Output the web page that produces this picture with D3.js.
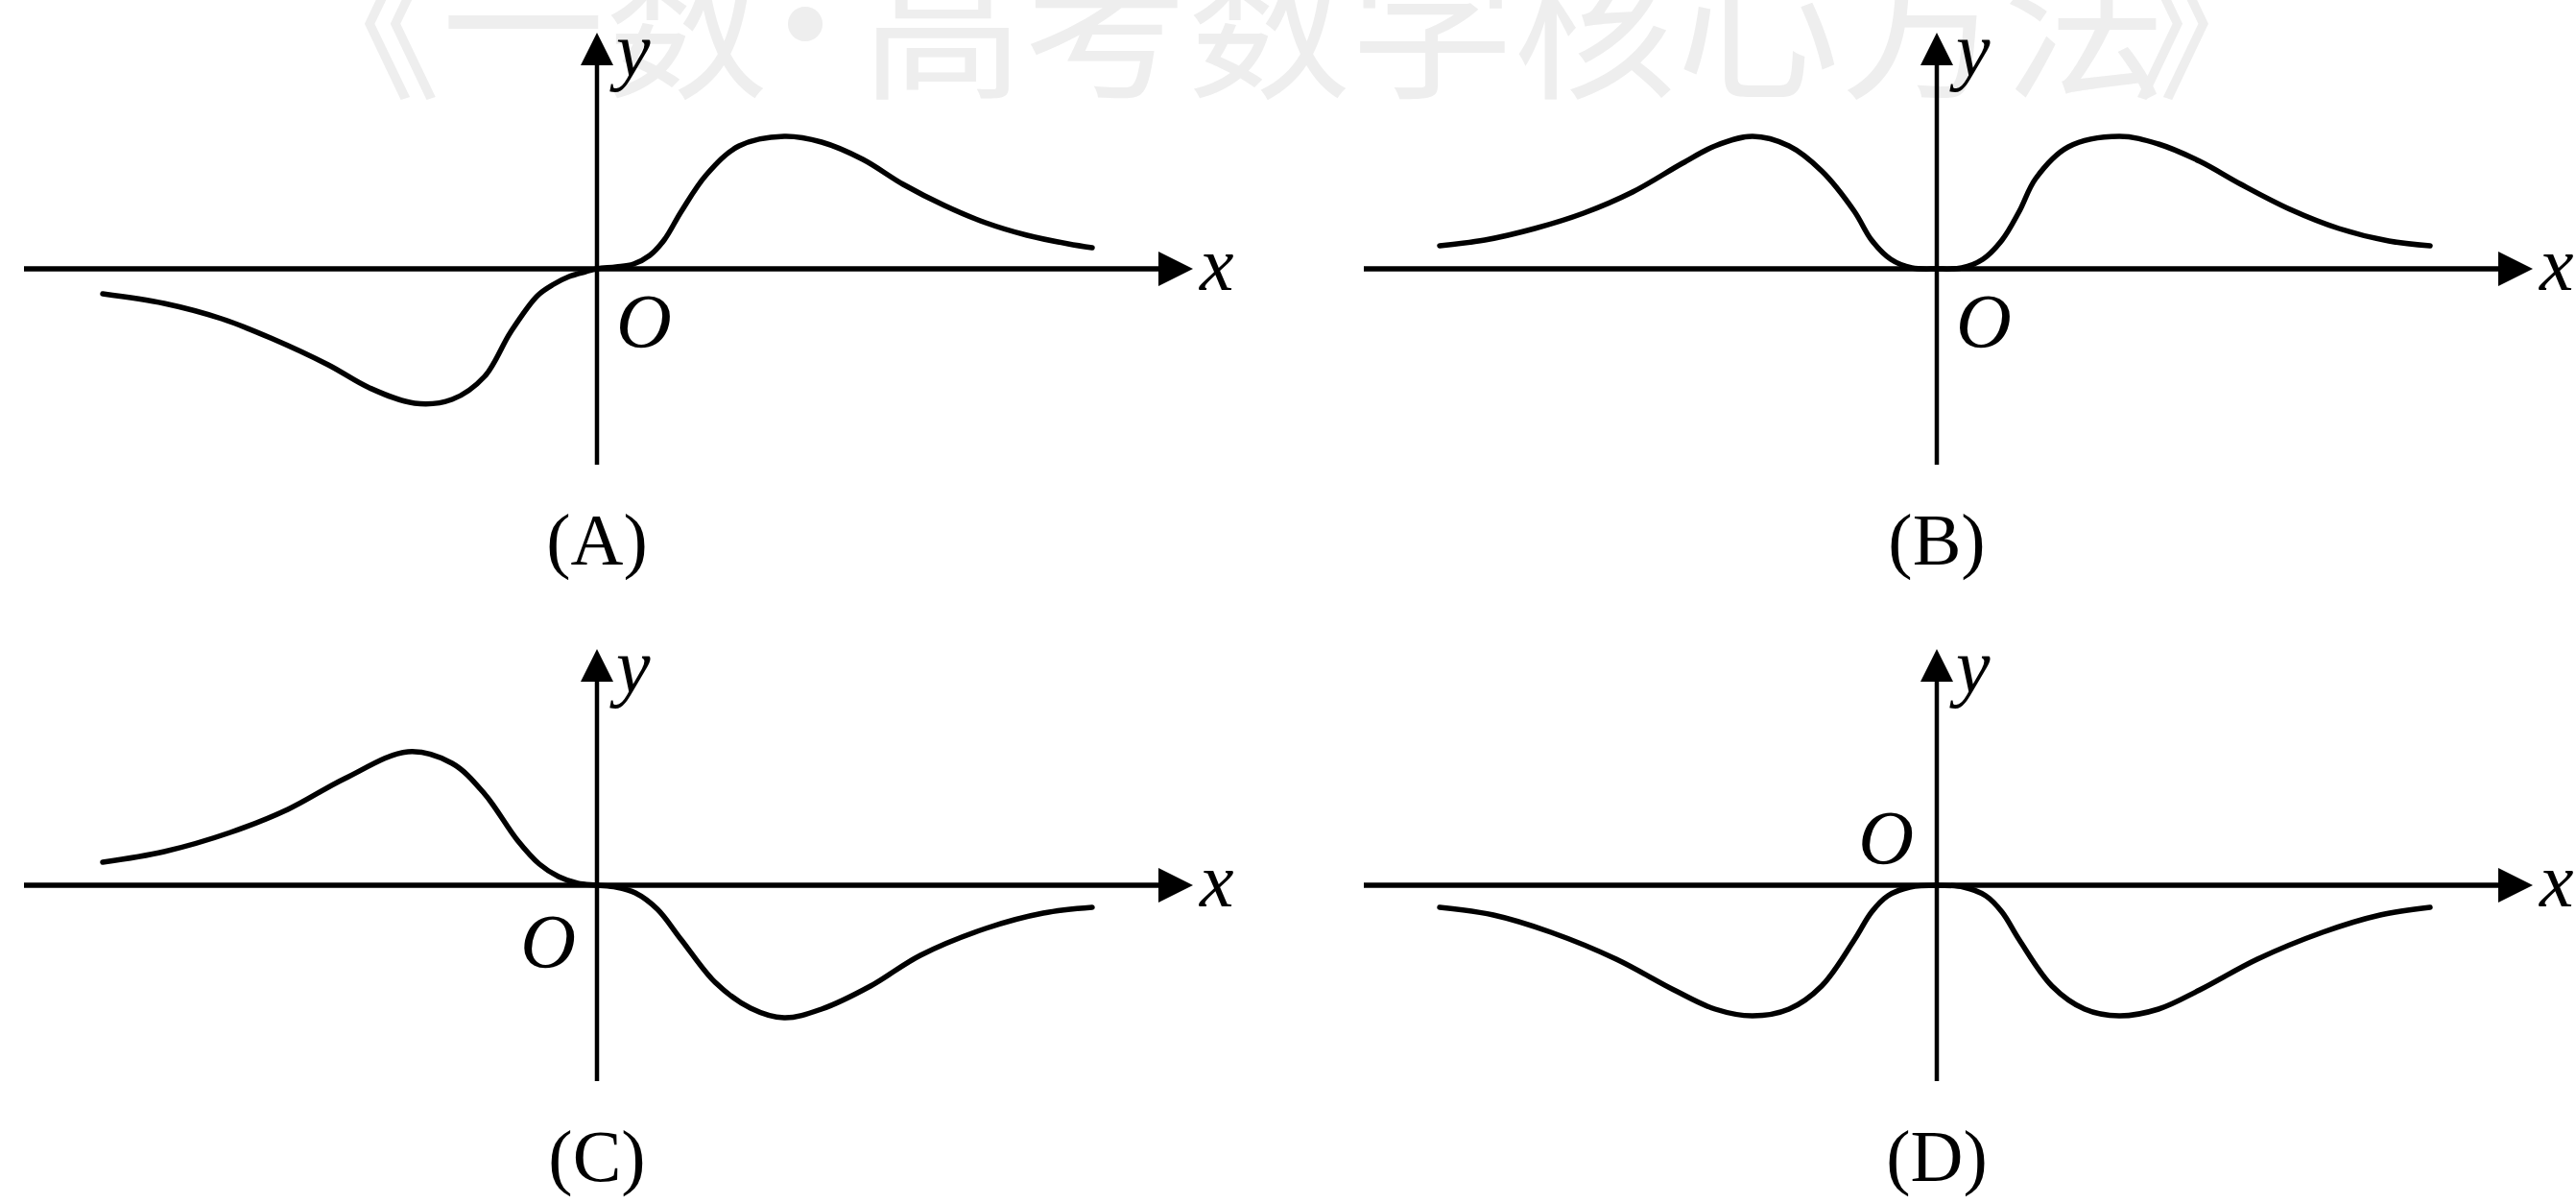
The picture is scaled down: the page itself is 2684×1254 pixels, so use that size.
<!DOCTYPE html>
<html lang="zh">
<head>
<meta charset="utf-8">
<title>函数图像</title>
<script src="https://cdn.jsdelivr.net/npm/d3@7"></script>
<style>
  body { margin: 0; background: #fff; }
  svg { display: block; }
  .lbl { font-family: "Liberation Serif", "Times New Roman", serif; fill: #000; }
</style>
</head>
<body>
<div id="chart"></div>
<script>
// curve points, [x, y] in axis units (1 unit ~ 100px)
const curveA = [[-5.15,-0.26],[-4.51,-0.36],[-3.91,-0.52],[-3.40,-0.72],[-2.80,-1.00],[-2.37,-1.24],[-1.90,-1.40],
  [-1.51,-1.36],[-1.17,-1.12],[-0.90,-0.66],[-0.62,-0.28],[-0.45,-0.16],[-0.29,-0.08],[-0.12,-0.03],[0,0],
  [0.20,0.02],[0.38,0.05],[0.55,0.14],[0.70,0.30],[0.88,0.60],[1.14,0.98],[1.48,1.28],[1.95,1.38],[2.34,1.32],
  [2.77,1.14],[3.19,0.88],[3.62,0.66],[4.05,0.48],[4.48,0.35],[4.91,0.26],[5.16,0.22]];
const curveB = [[-5.18,0.24],[-4.71,0.30],[-4.19,0.42],[-3.68,0.58],[-3.17,0.80],[-2.65,1.10],[-2.31,1.28],
  [-1.92,1.38],[-1.54,1.28],[-1.20,1.02],[-0.86,0.60],[-0.68,0.30],[-0.48,0.10],[-0.26,0.01],[0,0],
  [0.26,0.01],[0.48,0.10],[0.68,0.30],[0.86,0.60],[1.03,0.94],[1.37,1.27],[1.90,1.38],[2.31,1.30],[2.74,1.12],
  [3.17,0.88],[3.68,0.62],[4.19,0.42],[4.71,0.29],[5.14,0.24]];
const curveC = [[-5.15,0.24],[-4.51,0.35],[-3.82,0.55],[-3.22,0.79],[-2.63,1.11],[-1.97,1.39],[-1.51,1.27],
  [-1.17,0.95],[-0.83,0.47],[-0.60,0.22],[-0.40,0.09],[-0.20,0.02],[0,0],
  [0.20,-0.02],[0.40,-0.08],[0.63,-0.25],[0.88,-0.57],[1.23,-1.01],[1.60,-1.28],[1.95,-1.38],[2.34,-1.29],
  [2.85,-1.05],[3.37,-0.73],[4.05,-0.45],[4.65,-0.29],[5.16,-0.23]];
const curveD = [[-5.18,-0.23],[-4.62,-0.31],[-4.02,-0.49],[-3.34,-0.77],[-2.74,-1.09],[-2.31,-1.29],[-1.92,-1.36],
  [-1.54,-1.29],[-1.20,-1.05],[-0.86,-0.57],[-0.68,-0.28],[-0.51,-0.11],[-0.28,-0.02],[0,0],
  [0.28,-0.02],[0.51,-0.11],[0.68,-0.28],[0.86,-0.57],[1.20,-1.05],[1.54,-1.29],[1.90,-1.36],[2.31,-1.29],
  [2.74,-1.09],[3.34,-0.77],[4.02,-0.49],[4.62,-0.31],[5.14,-0.23]];
const panelNames = ["(A)", "(B)", "(C)", "(D)"];
const axisNames = ["x", "y", "O"];
const watermark = ["《一数", "•", "高考数学核心方法", "》"];

const width = 2684, height = 1254;
const svg = d3.select("#chart").append("svg")
  .attr("width", width)
  .attr("height", height);

// faint watermark across the top (dot and closing bracket sit tighter than a full em)
const wm = svg.append("text")
  .attr("x", 290)
  .attr("y", 90)
  .attr("font-family", "'Noto Sans CJK SC', sans-serif")
  .attr("font-size", 170)
  .attr("fill", "#eeeeee");
const wmShift = [0, -46, -27, -36];
watermark.forEach((t, i) => wm.append("tspan").attr("dx", wmShift[i]).text(t));

const x = d3.scaleLinear().domain([-5.97, 6.21]).range([0, 1218]);
const y = d3.scaleLinear().domain([-2.04, 2.46]).range([450, 0]);

const line = d3.line()
  .x(d => x(d[0]))
  .y(d => y(d[1]))
  .curve(d3.curveCatmullRom.alpha(0.5));

// where the O sits: "br" below right, "bl" below left, "tl" above left
const panels = [
  { name: panelNames[0], data: curveA, left: 25, top: 34, o: "br" },
  { name: panelNames[1], data: curveB, left: 1421, top: 34, o: "br" },
  { name: panelNames[2], data: curveC, left: 25, top: 676, o: "bl" },
  { name: panelNames[3], data: curveD, left: 1421, top: 676, o: "tl" }
];

panels.forEach(p => {
  const g = svg.append("g").attr("transform", `translate(${p.left},${p.top})`);
  const x0 = x(0), y0 = y(0);
  const xEnd = x(x.domain()[1]), yEnd = y(y.domain()[1]);

  // x axis with arrow
  g.append("line")
    .attr("x1", x(x.domain()[0])).attr("x2", xEnd - 30)
    .attr("y1", y0).attr("y2", y0)
    .attr("stroke", "#000").attr("stroke-width", 5.5);
  g.append("path")
    .attr("d", `M${xEnd},${y0}L${xEnd - 36},${y0 - 18}L${xEnd - 36},${y0 + 18}Z`)
    .attr("fill", "#000");

  // y axis with arrow
  g.append("line")
    .attr("x1", x0).attr("x2", x0)
    .attr("y1", y(y.domain()[0])).attr("y2", yEnd + 28)
    .attr("stroke", "#000").attr("stroke-width", 4.5);
  g.append("path")
    .attr("d", `M${x0},${yEnd}L${x0 - 17},${yEnd + 34}L${x0 + 17},${yEnd + 34}Z`)
    .attr("fill", "#000");

  // the curve
  g.append("path")
    .datum(p.data)
    .attr("d", line)
    .attr("fill", "none")
    .attr("stroke", "#000")
    .attr("stroke-width", 5.5)
    .attr("stroke-linecap", "round");

  // axis letters
  g.append("text").attr("class", "lbl")
    .attr("x", xEnd + 7).attr("y", y0 + 22)
    .attr("font-size", 80).attr("font-style", "italic")
    .text(axisNames[0]);
  g.append("text").attr("class", "lbl")
    .attr("x", x0 + 20).attr("y", yEnd + 45)
    .attr("font-size", 80).attr("font-style", "italic")
    .text(axisNames[1]);

  const o = g.append("text").attr("class", "lbl")
    .attr("font-size", 80).attr("font-style", "italic")
    .text(axisNames[2]);
  if (p.o === "br") o.attr("x", x0 + 20).attr("y", y0 + 82);
  if (p.o === "bl") o.attr("x", x0 - 22).attr("y", y0 + 86).attr("text-anchor", "end");
  if (p.o === "tl") o.attr("x", x0 - 24).attr("y", y0 - 22).attr("text-anchor", "end");

  // panel caption
  g.append("text").attr("class", "lbl")
    .attr("x", x0).attr("y", y0 + 308)
    .attr("text-anchor", "middle")
    .attr("font-size", 76)
    .text(p.name);
});
</script>
</body>
</html>
